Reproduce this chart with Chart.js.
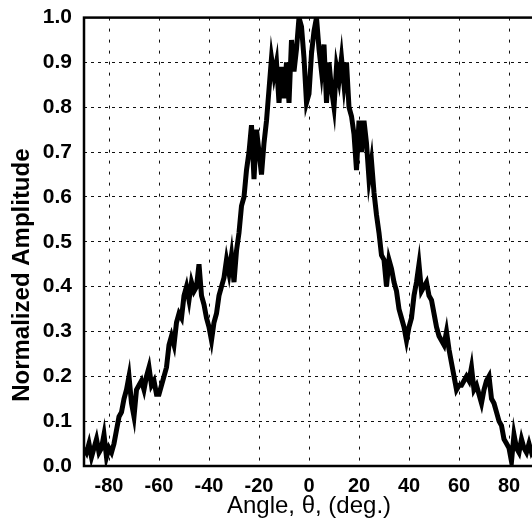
<!DOCTYPE html>
<html>
<head>
<meta charset="utf-8">
<script src="https://cdn.jsdelivr.net/npm/chart.js@4.4.1/dist/chart.umd.min.js"></script>
<style>
  html, body { margin: 0; padding: 0; background: #fff; overflow: hidden; }
  #wrap { position: relative; width: 536px; height: 532px; margin-top: -7px; }
</style>
</head>
<body>
<div id="wrap"><canvas id="myChart"></canvas></div>
<script>
// angle in degrees, one sample per degree
const angles = [];
for (let a = -90; a <= 90; a++) angles.push(a);

const amplitude = [
  0.04, 0.03, 0.05, 0.02, 0.04, 0.06, 0.03, 0.04, 0.07, 0.02,
  0.04, 0.03, 0.05, 0.08, 0.11, 0.12, 0.15, 0.17, 0.20, 0.14,
  0.11, 0.17, 0.18, 0.19, 0.17, 0.20, 0.22, 0.18, 0.19, 0.16,
  0.16, 0.18, 0.20, 0.22, 0.27, 0.29, 0.27, 0.32, 0.34, 0.33,
  0.38, 0.40, 0.37, 0.41, 0.39, 0.40, 0.45, 0.38, 0.36, 0.33,
  0.31, 0.28, 0.32, 0.34, 0.38, 0.40, 0.42, 0.46, 0.43, 0.47,
  0.41, 0.48, 0.52, 0.58, 0.60, 0.66, 0.70, 0.76, 0.64, 0.75,
  0.70, 0.65, 0.72, 0.77, 0.84, 0.91, 0.87, 0.90, 0.81, 0.89,
  0.82, 0.90, 0.81, 0.95, 0.88, 0.93, 1.00, 0.98, 0.91, 0.81,
  0.83,
  0.92, 0.97, 1.00, 0.93, 0.88, 0.94, 0.81, 0.90, 0.84, 0.80,
  0.89, 0.86, 0.91, 0.85, 0.90, 0.80, 0.78, 0.74, 0.66, 0.77,
  0.70, 0.77, 0.72, 0.64, 0.68, 0.61, 0.56, 0.52, 0.47, 0.46,
  0.40, 0.46, 0.44, 0.41, 0.39, 0.35, 0.33, 0.31, 0.28, 0.31,
  0.33, 0.38, 0.41, 0.45, 0.39, 0.40, 0.41, 0.38, 0.37, 0.34,
  0.31, 0.29, 0.28, 0.27, 0.30, 0.26, 0.23, 0.20, 0.17, 0.18,
  0.18, 0.19, 0.20, 0.19, 0.22, 0.17, 0.18, 0.16, 0.14, 0.17,
  0.19, 0.20, 0.15, 0.14, 0.12, 0.10, 0.09, 0.06, 0.05, 0.04,
  0.01, 0.07, 0.04, 0.03, 0.06, 0.04, 0.03, 0.05, 0.03, 0.04
];

const xTicks = [-80, -60, -40, -20, 0, 20, 40, 60, 80];
const yTicks = [0, 0.1, 0.2, 0.3, 0.4, 0.5, 0.6, 0.7, 0.8, 0.9, 1.0];

const fontFamily = "'Liberation Sans', Arial, Helvetica, sans-serif";

// thick frame around the plot area
const framePlugin = {
  id: 'frame',
  afterDraw(chart) {
    const { ctx, chartArea: a } = chart;
    ctx.save();
    ctx.strokeStyle = '#000';
    ctx.lineWidth = 2.5;
    ctx.strokeRect(a.left, a.top, a.right - a.left, a.bottom - a.top);
    ctx.restore();
  }
};

new Chart("myChart", {
  type: "line",
  data: {
    datasets: [{
      data: angles.map((a, i) => ({ x: a, y: amplitude[i] })),
      borderColor: "#000",
      borderWidth: 5,
      pointRadius: 0,
      tension: 0,
      fill: false,
      borderJoinStyle: 'miter'
    }]
  },
  options: {
    responsive: true,
    maintainAspectRatio: false,
    animation: false,
    layout: { padding: { top: 3, right: 2, left: 0, bottom: 0 } },
    plugins: {
      legend: { display: false },
      tooltip: { enabled: false }
    },
    scales: {
      x: {
        type: 'linear',
        min: -90,
        max: 90,
        afterBuildTicks: (s) => { s.ticks = xTicks.map(v => ({ value: v })); },
        afterFit: (s) => { s.height = 59; },
        grid: {
          color: '#111',
          lineWidth: 1,
          drawTicks: false
        },
        border: { display: false, dash: [3, 8] },
        ticks: {
          color: '#000',
          padding: 8,
          maxRotation: 0,
          font: { family: fontFamily, size: 20, weight: 'bold' }
        },
        title: {
          display: true,
          text: 'Angle, \u03b8, (deg.)',
          color: '#000',
          padding: { top: 0, bottom: 4 },
          font: { family: fontFamily, size: 24, weight: 'normal' }
        }
      },
      y: {
        min: 0,
        max: 1,
        afterBuildTicks: (s) => { s.ticks = yTicks.map(v => ({ value: v })); },
        afterFit: (s) => { s.width = 84; },
        grid: {
          color: '#111',
          lineWidth: 1,
          drawTicks: false
        },
        border: { display: false, dash: [3, 4] },
        ticks: {
          color: '#000',
          padding: 12,
          callback: (v) => v.toFixed(1),
          font: { family: fontFamily, size: 21, weight: 'bold' }
        },
        title: {
          display: true,
          // trailing spaces push the label toward the bottom as in the original
          text: 'Normalized Amplitude' + '\u00a0'.repeat(10),
          color: '#000',
          padding: { top: 8, bottom: 0 },
          font: { family: fontFamily, size: 24, weight: 'bold' }
        }
      }
    }
  },
  plugins: [framePlugin]
});
</script>
</body>
</html>
